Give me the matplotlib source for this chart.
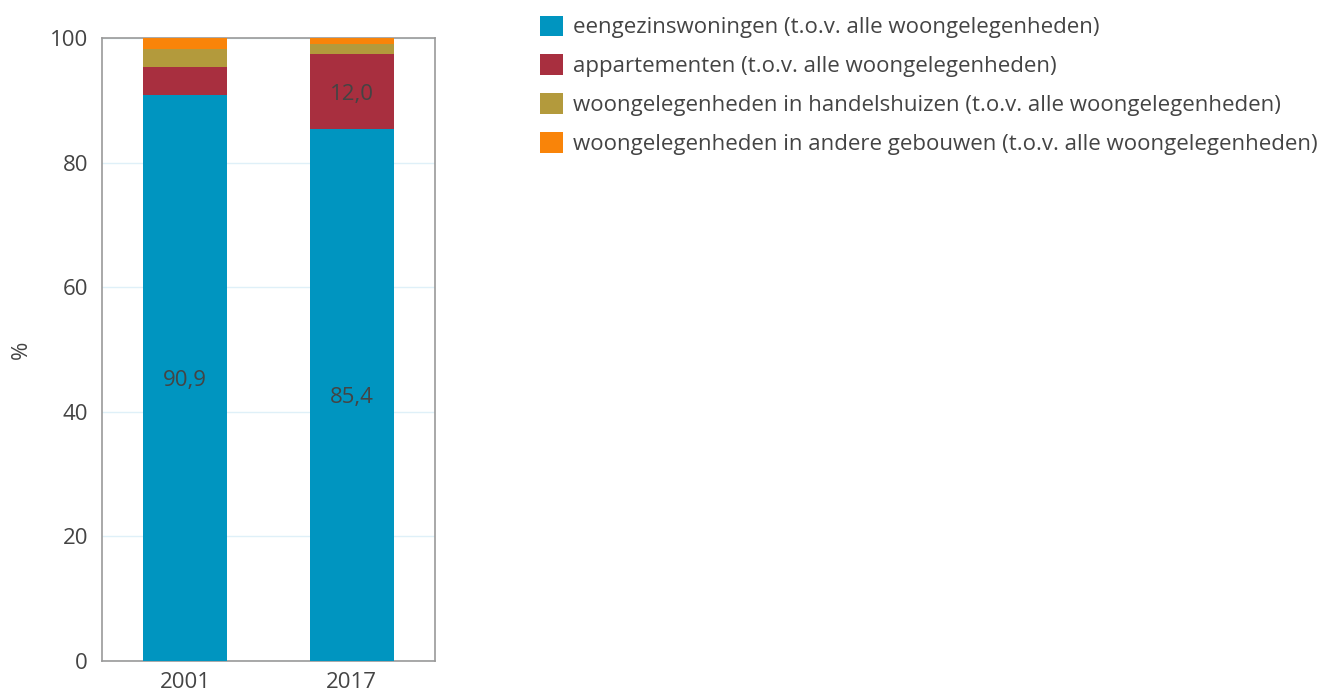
import matplotlib
matplotlib.use("Agg")
import matplotlib.pyplot as plt
from matplotlib.patches import Patch

plt.rcParams['font.family'] = ['Open Sans', 'DejaVu Sans']

years = ["2001", "2017"]
eengezins = [90.9, 85.4]
appartementen = [4.5, 12.0]
handelshuizen = [2.9, 1.6]
andere = [1.7, 1.0]
series_names = [
    "eengezinswoningen (t.o.v. alle woongelegenheden)",
    "appartementen (t.o.v. alle woongelegenheden)",
    "woongelegenheden in handelshuizen (t.o.v. alle woongelegenheden)",
    "woongelegenheden in andere gebouwen (t.o.v. alle woongelegenheden)",
]
colors = ["#0095c0", "#a82f3f", "#b39a3c", "#f98409"]
yticks = [0, 20, 40, 60, 80, 100]

fig = plt.figure(figsize=(13.27, 7.0), dpi=100)
ax = fig.add_axes([102/1327, 1-661/700, 333/1327, 623/700])

x = list(range(len(years)))
bottom = [0.0]*len(years)
data = [eengezins, appartementen, handelshuizen, andere]
for vals, col in zip(data, colors):
    ax.bar(x, vals, width=0.505, bottom=bottom, color=col, zorder=3)
    for xi, v, b in zip(x, vals, bottom):
        if v >= 10:
            ax.text(xi, b + v/2, f"{v:.1f}".replace(".", ","), ha="center",
                    va="center_baseline", fontsize=16, color="#444444", zorder=4)
    bottom = [b + v for b, v in zip(bottom, vals)]

ax.set_xlim(-0.5, 1.5)
ax.set_ylim(0, 100)
ax.set_yticks(yticks)
ax.set_xticks(x)
ax.set_xticklabels(years)
ax.tick_params(axis="both", length=0, labelsize=16, labelcolor="#444444")
ax.tick_params(axis="y", pad=10)
ax.tick_params(axis="x", pad=8)
ax.grid(axis="y", color="#dff0f8", linewidth=1, zorder=0)
for s in ax.spines.values():
    s.set_color("#999999")
    s.set_linewidth(1.2)
ax.set_ylabel("%", fontsize=16, color="#444444")
ax.yaxis.set_label_coords(-70/333, 0.5)

handles = [Patch(facecolor=c, edgecolor="none") for c in colors]
fig.legend(handles, series_names, loc="upper left", bbox_to_anchor=(524/1327, 1.0),
           frameon=False, fontsize=16, labelcolor="#444444",
           handlelength=1.05, handleheight=1.05, handletextpad=0.45, labelspacing=0.72,
           borderaxespad=0.3)

fig.savefig("out.png", dpi=100)
